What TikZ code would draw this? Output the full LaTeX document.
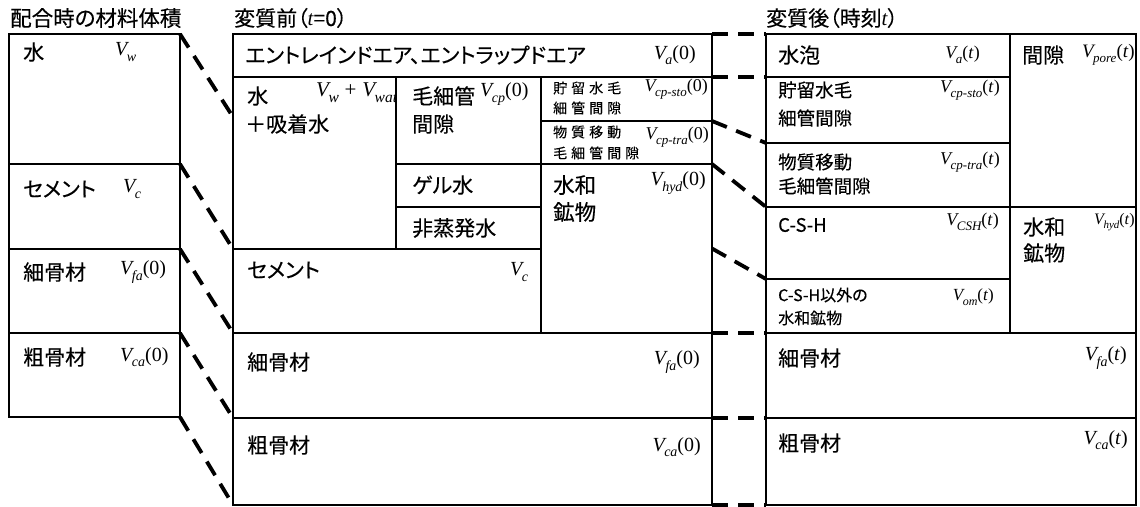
\documentclass[tikz,border=0pt]{standalone}
\usepackage{fontspec}
\setmainfont{Noto Sans CJK JP}[RawFeature=+palt, FakeBold=0.3]
\newfontfamily\tms{Liberation Serif}
\usetikzlibrary{fit}
\newcommand\VV[3]{{\fontsize{#1}{#1}\selectfont\tms\itshape V\kern-0.5pt\raisebox{-0.28em}{\fontsize{\the\numexpr #1*7/10\relax}{1}\selectfont #2}\upshape #3}}
\newcommand\fs[1]{\fontsize{#1}{#1}\selectfont}
\begin{document}
\begin{tikzpicture}[x=1pt,y=-1pt,
  cell/.style={draw, line width=1.3pt, inner sep=0pt, outer sep=0pt},
  conn/.style={line width=3.8pt, dash pattern=on 16pt off 10pt},
  lab/.style={anchor=west, inner sep=0pt, font=\fs{21}},
  slab/.style={anchor=west, inner sep=0pt, font=\fs{18.5}},
  tlab/.style={anchor=west, inner sep=0pt, font=\fs{14}},
  vl/.style={anchor=west, inner sep=0pt},
  vr/.style={anchor=east, inner sep=0pt}]
\useasboundingbox (0,0) rectangle (1140,506);
% titles
\node[lab, font=\fs{21.5}] (t1) at (10,18) {配合時の材料体積};
\node[lab] (t2) at (234,18) {変質前（{\tms\itshape t}=0）};
\node[lab] (t3) at (766,18) {変質後（時刻{\tms\itshape t}）};
% left column
\node[cell, fit={(9,34) (180,164)}] (Lw) {};
\node[cell, fit={(9,164) (180,249)}] (Lc) {};
\node[cell, fit={(9,249) (180,333)}] (Lf) {};
\node[cell, fit={(9,333) (180,417)}] (Lg) {};
% middle column
\node[cell, fit={(233,34) (712,77)}] (Ma) {};
\node[cell, fit={(233,77) (396,249)}] (Mw) {};
\node[cell, fit={(396,77) (541,164)}] (Mcp) {};
\node[cell, fit={(396,164) (541,207)}] (Mgel) {};
\node[cell, fit={(396,207) (541,249)}] (Mnon) {};
\node[cell, fit={(541,77) (712,121)}] (Msto) {};
\node[cell, fit={(541,121) (712,164)}] (Mtra) {};
\node[cell, fit={(541,164) (712,333)}] (Mhyd) {};
\node[cell, fit={(233,249) (541,333)}] (Mc) {};
\node[cell, fit={(233,333) (712,418)}] (Mf) {};
\node[cell, fit={(233,418) (712,505)}] (Mg) {};
% right column
\node[cell, fit={(766,34) (1010,77)}] (Ra) {};
\node[cell, fit={(766,77) (1010,143)}] (Rsto) {};
\node[cell, fit={(766,143) (1010,207)}] (Rtra) {};
\node[cell, fit={(1010,34) (1136,207)}] (Rpore) {};
\node[cell, fit={(766,207) (1010,279)}] (Rcsh) {};
\node[cell, fit={(766,279) (1010,333)}] (Rom) {};
\node[cell, fit={(1010,207) (1136,333)}] (Rhyd) {};
\node[cell, fit={(766,333) (1136,418)}] (Rf) {};
\node[cell, fit={(766,418) (1136,505)}] (Rg) {};
% left labels
\node[lab] (lw) at (23,52) {水};
\node[vl] (vw) at (115,52) {\VV{20}{w}{}};
\node[lab] (lc) at (23,189) {セメント};
\node[vl] (vc) at (123,189) {\VV{20}{c}{}};
\node[lab] (lf) at (23,272) {細骨材};
\node[vl] (vf) at (120,272) {\VV{20}{fa}{(0)}};
\node[lab] (lg) at (23,357) {粗骨材};
\node[vl] (vg) at (120,357) {\VV{20}{ca}{(0)}};
% middle labels
\node[lab] (ma) at (245,55) {エントレインドエア、エントラップドエア};
\node[vr] (va) at (696,55) {\VV{20}{a}{(0)}};
\node[lab] (mw1) at (247,96) {水};
\node[lab] (mw2) at (245,124) {＋吸着水};
\begin{scope}
\clip (233,77) rectangle (395,249);
\node[vl] (vww) at (316,93) {{\fs{21}\tms\itshape V\kern-0.5pt\raisebox{-0.28em}{\fs{15.5}w}{\upshape\;+\;}V\kern-0.5pt\raisebox{-0.28em}{\fs{15.5}wat}}};
\end{scope}
\node[lab] (mcp1) at (412,96) {毛細管};
\node[lab] (mcp2) at (412,124) {間隙};
\node[vl] (vcp) at (480,94) {\VV{20}{cp}{(0)}};
\node[lab] (mgel) at (412,185) {ゲル水};
\node[lab] (mnon) at (412,228) {非蒸発水};
\node[tlab] (ms1) at (553,88) {貯\kern4pt 留\kern4pt 水\kern4pt 毛};
\node[tlab] (ms2) at (553,108) {細\kern4pt 管\kern4pt 間\kern4pt 隙};
\node[vr] (vsto) at (708,89) {\VV{18}{cp-sto}{(0)}};
\node[tlab] (mt1) at (553,132) {物\kern4pt 質\kern4pt 移\kern4pt 動};
\node[tlab] (mt2) at (553,153) {毛\kern4pt 細\kern4pt 管\kern4pt 間\kern4pt 隙};
\node[vr] (vtra) at (709,137) {\VV{18}{cp-tra}{(0)}};
\node[lab, font=\fs{21.5}] (mh1) at (553,185) {水和};
\node[lab, font=\fs{21.5}] (mh2) at (553,212) {鉱物};
\node[vr] (vhyd) at (706,183) {\VV{20}{hyd}{(0)}};
\node[lab] (mc) at (247,270) {セメント};
\node[vl] (vmc) at (510,272) {\VV{20}{c}{}};
\node[lab] (mf) at (247,362) {細骨材};
\node[vr] (vmf) at (700,362) {\VV{20}{fa}{(0)}};
\node[lab] (mg) at (247,445) {粗骨材};
\node[vr] (vmg) at (701,447) {\VV{20}{ca}{(0)}};
% right labels
\node[lab] (ra) at (778,55) {水泡};
\node[vr] (vra) at (980,55) {\VV{18}{a}{(\textit{t})}};
\node[lab] (rp) at (1022,55) {間隙};
\node[vr] (vrp) at (1135,55) {\VV{19}{pore}{(\textit{t})}};
\node[slab] (rs1) at (778,90) {貯留水毛};
\node[slab] (rs2) at (778,118) {細管間隙};
\node[vr] (vrs) at (1000,90) {\VV{18}{cp-sto}{(\textit{t})}};
\node[slab] (rt1) at (778,162) {物質移動};
\node[slab] (rt2) at (778,186) {毛細管間隙};
\node[vr] (vrt) at (1000,162) {\VV{18}{cp-tra}{(\textit{t})}};
\node[slab] (rc) at (778,225) {C-S-H};
\node[vr] (vrc) at (999,222) {\VV{18}{CSH}{(\textit{t})}};
\node[lab] (rh1) at (1023,227) {水和};
\node[lab] (rh2) at (1023,253) {鉱物};
\node[vr] (vrh) at (1135,222) {\VV{16}{hyd}{(\textit{t})}};
\node[tlab, font=\fs{16}] (ro1) at (778,295) {C-S-H以外の};
\node[tlab, font=\fs{16}] (ro2) at (778,318) {水和鉱物};
\node[vr] (vro) at (994,297) {\VV{17}{om}{(\textit{t})}};
\node[lab] (rf) at (778,358) {細骨材};
\node[vr] (vrf) at (1127,358) {\VV{20}{fa}{(\textit{t})}};
\node[lab] (rg) at (778,443) {粗骨材};
\node[vr] (vrg) at (1128,440) {\VV{20}{ca}{(\textit{t})}};
% connectors left -> middle
\coordinate (mwp) at (233,117);
\draw[conn] (Lw.north east) -- (mwp);
\draw[conn] (Lc.north east) -- (Mc.north west);
\draw[conn] (Lf.north east) -- (Mf.north west);
\draw[conn] (Lg.north east) -- (Mg.north west);
\draw[conn] (Lg.south east) -- (Mg.south west);
% connectors middle -> right
\draw[conn] (Ma.north east) -- (Ra.north west);
\draw[conn] (Ma.south east) -- (Ra.south west);
\draw[conn] (Msto.south east) -- (Rsto.south west);
\draw[conn] (Mtra.south east) -- (Rtra.south west);
\draw[conn] (Mhyd.east) -- (Rcsh.south west);
\draw[conn] (Mf.north east) -- (Rf.north west);
\draw[conn] (Mg.north east) -- (Rg.north west);
\draw[conn] (Mg.south east) -- (Rg.south west);
\end{tikzpicture}
\end{document}
